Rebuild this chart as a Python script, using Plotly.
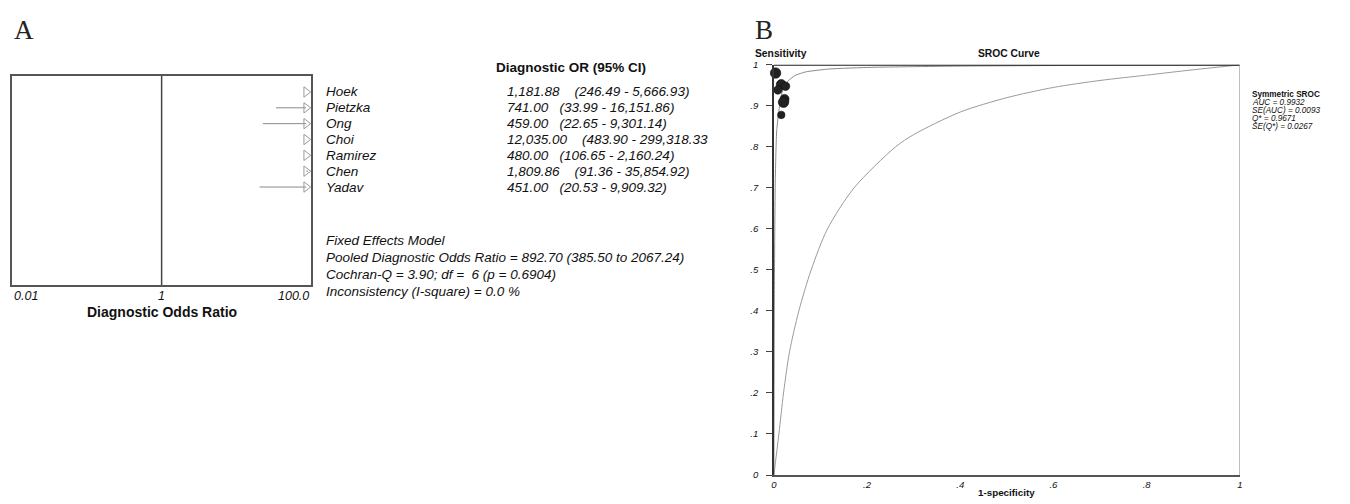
import numpy as np
import plotly.graph_objects as go

# ---------------- data ----------------
studies = ["Hoek", "Pietzka", "Ong", "Choi", "Ramirez", "Chen", "Yadav"]
dor = [1181.88, 741.00, 459.00, 12035.00, 480.00, 1809.86, 451.00]
ci_low = [246.49, 33.99, 22.65, 483.90, 106.65, 91.36, 20.53]
ci_high = [5666.93, 16151.86, 9301.14, 299318.33, 2160.24, 35854.92, 9909.32]
ci_text = ["1,181.88\u00a0\u00a0\u00a0 (246.49 - 5,666.93)",
           "741.00\u00a0\u00a0 (33.99 - 16,151.86)",
           "459.00\u00a0\u00a0 (22.65 - 9,301.14)",
           "12,035.00\u00a0\u00a0\u00a0 (483.90 - 299,318.33",
           "480.00\u00a0\u00a0 (106.65 - 2,160.24)",
           "1,809.86\u00a0\u00a0\u00a0 (91.36 - 35,854.92)",
           "451.00\u00a0\u00a0 (20.53 - 9,909.32)"]
forest_ticks = [0.01, 1, 100]
forest_ticklabels = ["0.01", "1", "100.0"]
summary_lines = ["Fixed Effects Model",
                 "Pooled Diagnostic Odds Ratio = 892.70 (385.50 to 2067.24)",
                 "Cochran-Q = 3.90; df =\u00a0 6 (p = 0.6904)",
                 "Inconsistency (I-square) = 0.0 %"]

# SROC study points (1-specificity, sensitivity) and relative sizes
fpr = [0.0036, 0.0158, 0.0085, 0.0250, 0.0229, 0.0207, 0.0158]
sens = [0.980, 0.952, 0.939, 0.948, 0.917, 0.909, 0.878]
weight_size = [10.5, 10, 8.5, 8.5, 9, 10.5, 7.5]

# SROC curves
sroc_x = [0, 0.001, 0.003, 0.006, 0.011, 0.018, 0.03, 0.045, 0.069, 0.12, 0.21, 0.4, 0.7, 1.0]
sroc_y = [0, 0.45, 0.72, 0.84, 0.89, 0.935, 0.96, 0.974, 0.983, 0.99, 0.994, 0.997, 0.999, 1.0]
low_x = [0, 0.0107, 0.0207, 0.0335, 0.0535, 0.080, 0.115, 0.172, 0.261, 0.30, 0.40, 0.50, 0.60, 0.70, 0.80, 0.90, 1.0]
low_y = [0, 0.10, 0.20, 0.30, 0.40, 0.50, 0.60, 0.70, 0.80, 0.83, 0.885, 0.92, 0.945, 0.962, 0.975, 0.988, 1.0]

sroc_ticks_y = [i / 10 for i in range(11)]
sroc_ticklabels_y = ["0", ".1", ".2", ".3", ".4", ".5", ".6", ".7", ".8", ".9", "1"]
sroc_ticks_x = [0, 0.2, 0.4, 0.6, 0.8, 1.0]
sroc_ticklabels_x = ["0", ".2", ".4", ".6", ".8", "1"]
legend_lines = ["<b>Symmetric SROC</b>", "<i>AUC = 0.9932</i>", "<i>SE(AUC) = 0.0093</i>",
                "<i>Q* = 0.9671</i>", "<i>SE(Q*) = 0.0267</i>"]

# ---------------- layout geometry ----------------
W, H = 1350, 504
OFF = 8  # page body margin
FONT = "Arial, 'Liberation Sans', sans-serif"
SERIF = "'Liberation Serif', 'DejaVu Serif', serif"
TXT = 13.5

fx0, fx1, fy0, fy1 = 9.3, 309.3, 71, 285.5   # forest box in px
sx0, sx1, sy0, sy1 = 774.3, 1242.3, 60, 479.3  # sroc box in px
XMIN_LOG, XMAX_LOG = -2, 2
row0_px, row_step = 87.7, 16.2
y_top = (fy0 - row0_px) / row_step
y_bot = (fy1 - row0_px) / row_step

px_per_dec = (fx1 - fx0) / (XMAX_LOG - XMIN_LOG)
tri_size = 9
arrow_x = 10 ** (XMAX_LOG - (tri_size / 2 + 0.3) / px_per_dec)


def px(x):
    return (x - OFF) / W


def py(y):
    return 1 - (y - OFF) / H


fig = go.Figure()
rows = list(range(len(studies)))

# reference line at OR = 1
fig.add_trace(go.Scatter(x=[1, 1], y=[y_bot, y_top], mode="lines",
                         line=dict(color="#444", width=1.5), xaxis="x", yaxis="y",
                         hoverinfo="skip", showlegend=False))
# CI lines truncated at the axis edge
for i, (lo, hi) in enumerate(zip(ci_low, ci_high)):
    if lo < 10 ** XMAX_LOG:
        fig.add_trace(go.Scatter(x=[lo, arrow_x], y=[i, i], mode="lines",
                                 line=dict(color="#8a8a8a", width=1),
                                 xaxis="x", yaxis="y", showlegend=False, hoverinfo="skip"))
# arrows (estimates beyond axis range)
fig.add_trace(go.Scatter(x=[arrow_x if d > 10 ** XMAX_LOG else d for d in dor], y=rows,
                         mode="markers", cliponaxis=False,
                         marker=dict(symbol="triangle-right-open", size=tri_size,
                                     color="#9a9a9a", line=dict(width=1, color="#9a9a9a")),
                         xaxis="x", yaxis="y", showlegend=False))

# SROC curves
fig.add_trace(go.Scatter(x=low_x, y=low_y, mode="lines",
                         line=dict(color="#9a9a9a", width=1, shape="spline", smoothing=0.8),
                         xaxis="x2", yaxis="y2", showlegend=False))
fig.add_trace(go.Scatter(x=sroc_x, y=sroc_y, mode="lines",
                         line=dict(color="#8a8a8a", width=1, shape="spline", smoothing=0.5),
                         xaxis="x2", yaxis="y2", showlegend=False))
fig.add_trace(go.Scatter(x=fpr, y=sens, mode="markers", cliponaxis=False,
                         marker=dict(size=weight_size, color="#222", opacity=1,
                                     line=dict(width=0.6, color="#111")),
                         xaxis="x2", yaxis="y2", showlegend=False))

ann = []
# panel letters
ann.append(dict(text="A", x=px(9), y=py(24), xref="paper", yref="paper", xanchor="left", yanchor="middle",
                showarrow=False, font=dict(family=SERIF, size=27, color="#222")))
ann.append(dict(text="B", x=px(753), y=py(24), xref="paper", yref="paper", xanchor="left", yanchor="middle",
                showarrow=False, font=dict(family=SERIF, size=27, color="#222")))

# forest texts
ann.append(dict(text="<b>Diagnostic OR (95% CI)</b>", x=px(570), y=py(63), xref="paper", yref="paper",
                xanchor="center", yanchor="middle", showarrow=False, font=dict(family=FONT, size=TXT, color="#111")))
for i, (name, t) in enumerate(zip(studies, ci_text)):
    ann.append(dict(text=name, x=px(322.5), y=i, xref="paper", yref="y", xanchor="left", yanchor="middle",
                    showarrow=False, font=dict(family=FONT, size=TXT, color="#111", style="italic")))
    ann.append(dict(text=t, x=px(504), y=i, xref="paper", yref="y", xanchor="left", yanchor="middle",
                    showarrow=False, font=dict(family=FONT, size=TXT, color="#111", style="italic")))
for k, line in enumerate(summary_lines):
    ann.append(dict(text=line, x=px(322.5), y=py(240 + 17.2 * k), xref="paper", yref="paper",
                    xanchor="left", yanchor="middle", showarrow=False,
                    font=dict(family=FONT, size=TXT, color="#111", style="italic")))
anchors = ["left", "center", "right"]
for v, lab, a in zip(forest_ticks, forest_ticklabels, anchors):
    ann.append(dict(text=lab, x=np.log10(v), y=py(296.5), xref="x", yref="paper", xanchor=a, yanchor="middle",
                    showarrow=False, font=dict(family=FONT, size=12.5, color="#111", style="italic")))
ann.append(dict(text="<b>Diagnostic Odds Ratio</b>", x=np.log10(1), y=py(312.5), xref="x", yref="paper",
                xanchor="center", yanchor="middle", showarrow=False, font=dict(family=FONT, size=14, color="#111")))

# SROC texts
ann.append(dict(text="<b>Sensitivity</b>", x=px(753.5), y=py(48), xref="paper", yref="paper", xanchor="left",
                yanchor="middle", showarrow=False, font=dict(family=FONT, size=10.3, color="#111")))
ann.append(dict(text="<b>SROC Curve</b>", x=px(1010), y=py(48), xref="paper", yref="paper", xanchor="center",
                yanchor="middle", showarrow=False, font=dict(family=FONT, size=10.3, color="#111")))
ann.append(dict(text="<b>1-specificity</b>", x=0.5, y=py(497.5), xref="x2 domain", yref="paper", xanchor="center",
                yanchor="middle", showarrow=False, font=dict(family=FONT, size=9.8, color="#111")))
for k, line in enumerate(legend_lines):
    ann.append(dict(text=line, x=px(1252.5), y=py(90 + 8.3 * k), xref="paper", yref="paper", xanchor="left",
                    yanchor="middle", showarrow=False, font=dict(family=FONT, size=8.2, color="#111")))

shapes = [
    dict(type="line", xref="x2", yref="y2", x0=0, x1=1, y0=1, y1=1, line=dict(color="#222", width=2)),
    dict(type="line", xref="x2", yref="y2", x0=1, x1=1, y0=0, y1=1, line=dict(color="#8a8a8a", width=1)),
]

fig.update_layout(
    width=W, height=H, autosize=False,
    margin=dict(l=0, r=0, t=0, b=0),
    paper_bgcolor="white", plot_bgcolor="white",
    showlegend=False,
    annotations=ann, shapes=shapes,
    xaxis=dict(type="log", range=[XMIN_LOG, XMAX_LOG], domain=[px(fx0), px(fx1)], anchor="y",
               showgrid=False, zeroline=False, showticklabels=False, ticks="",
               showline=True, mirror=True, linecolor="#555", linewidth=1.5),
    yaxis=dict(range=[y_bot, y_top], domain=[py(fy1), py(fy0)], anchor="x",
               showgrid=False, zeroline=False, showticklabels=False, ticks="",
               showline=True, mirror=True, linecolor="#555", linewidth=1.5),
    xaxis2=dict(range=[0, 1], domain=[px(sx0), px(sx1)], anchor="y2",
                showgrid=False, zeroline=False, ticks="", tickvals=sroc_ticks_x, ticktext=sroc_ticklabels_x,
                tickfont=dict(family=FONT, size=9.5, color="#111", style="italic"),
                showline=True, linecolor="#555", linewidth=1.5),
    yaxis2=dict(range=[0, 1], domain=[py(sy1), py(sy0)], anchor="x2",
                showgrid=False, zeroline=False, ticks="outside", ticklen=6, tickcolor="#444", tickwidth=1,
                tickvals=sroc_ticks_y, ticktext=sroc_ticklabels_y, ticklabelstandoff=6,
                tickfont=dict(family=FONT, size=9.5, color="#111", style="italic"),
                showline=True, linecolor="#333", linewidth=1.5),
)

fig.write_html("out.html")
